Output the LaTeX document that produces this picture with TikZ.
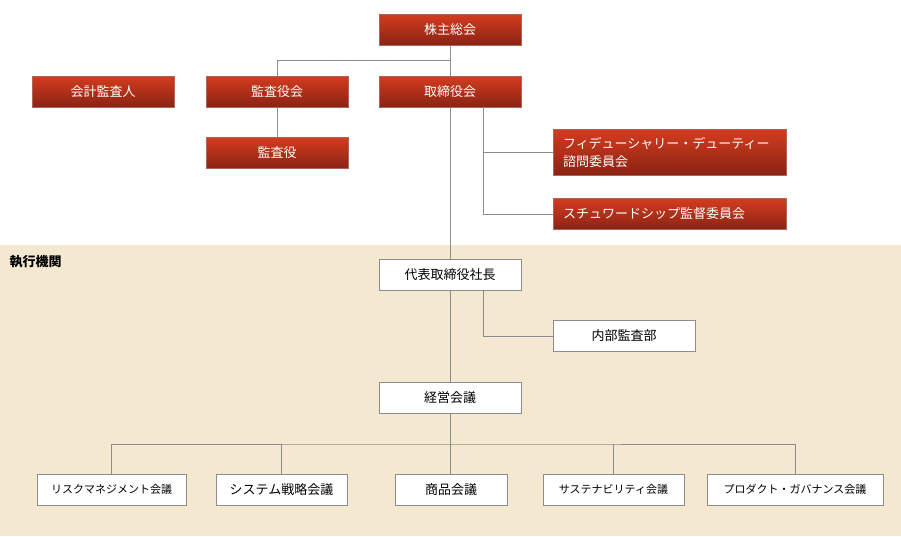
\documentclass[tikz,border=0pt]{standalone}
\usepackage{fontspec}
\setmainfont{Noto Sans CJK JP}
\usetikzlibrary{positioning}
\definecolor{redtop}{HTML}{D43C1F}
\definecolor{redbot}{HTML}{8A2314}
\definecolor{execbg}{HTML}{F5E8D0}
\definecolor{linegray}{HTML}{8C8C8C}
\tikzset{
  board/.style={draw=redbot!70, top color=redtop, bottom color=redbot, text=white,
    minimum width=142pt, minimum height=31pt, inner sep=0pt, font=\fontsize{13}{15}\selectfont},
  exec/.style={draw=linegray, fill=white, minimum height=31pt, inner sep=0pt,
    font=\fontsize{13}{15}\selectfont},
  meeting/.style={exec, font=\fontsize{11}{13}\selectfont},
  link/.style={draw=linegray, line width=0.9pt}
}
\begin{document}
\begin{tikzpicture}[x=1pt, y=-1pt]
\useasboundingbox (0,0) rectangle (901,536);
\fill[execbg] (0,245) rectangle (901,536);
\node[anchor=north west, font=\bfseries\fontsize{13}{15}\selectfont] (exlabel) at (6,252) {執行機関};
% governance
\node[board] (agm)  at (450,29.5)  {株主総会};
\node[board] (acct) at (103,91.5)  {会計監査人};
\node[board] (kab)  at (277,91.5)  {監査役会};
\node[board] (bod)  at (450,91.5)  {取締役会};
\node[board] (aud)  at (277,153)   {監査役};
\node[board, minimum width=233pt, minimum height=46pt, align=left, text width=213pt,
  font=\fontsize{13}{18}\selectfont] (fid) at (669.5,152)
  {フィデューシャリー・デューティー\\諮問委員会};
\node[board, minimum width=233pt, align=left, text width=213pt] (stw) at (669.5,214) {スチュワードシップ監督委員会};
% execution
\node[exec, minimum width=142pt] (ceo)  at (450,275) {代表取締役社長};
\node[exec, minimum width=142pt] (iad)  at (624,336) {内部監査部};
\node[exec, minimum width=142pt] (mgmt) at (450,398) {経営会議};
\node[meeting, minimum width=149pt] (risk) at (111.5,489.5) {リスクマネジメント会議};
\node[meeting, minimum width=131pt, font=\fontsize{13}{15}\selectfont] (sys) at (281.5,489.5) {システム戦略会議};
\node[meeting, minimum width=112pt, font=\fontsize{13}{15}\selectfont] (prod) at (451,489.5) {商品会議};
\node[meeting, minimum width=141pt] (sus) at (613.5,489.5) {サステナビリティ会議};
\node[meeting, minimum width=176pt] (pg) at (795,489.5) {プロダクト・ガバナンス会議};
\coordinate (jtop) at (450,60);
\coordinate (jbus) at (450,444);
% connectors
\path[link] (agm) -- (bod) (bod) -- (ceo) (ceo) -- (mgmt) (mgmt) -- (jbus)
  (jtop) -| (kab) (kab) -- (aud);
\path[link] (483,107) |- (fid.west) (483,107) |- (stw.west) (483,290) |- (iad.west);
\path[link] (risk.north) |- (jbus) -| (pg.north)
  (sys.north) -- (sys.north |- jbus) (jbus) -- (prod.north -| jbus) (sus.north) -- (sus.north |- jbus);
\end{tikzpicture}
\end{document}
